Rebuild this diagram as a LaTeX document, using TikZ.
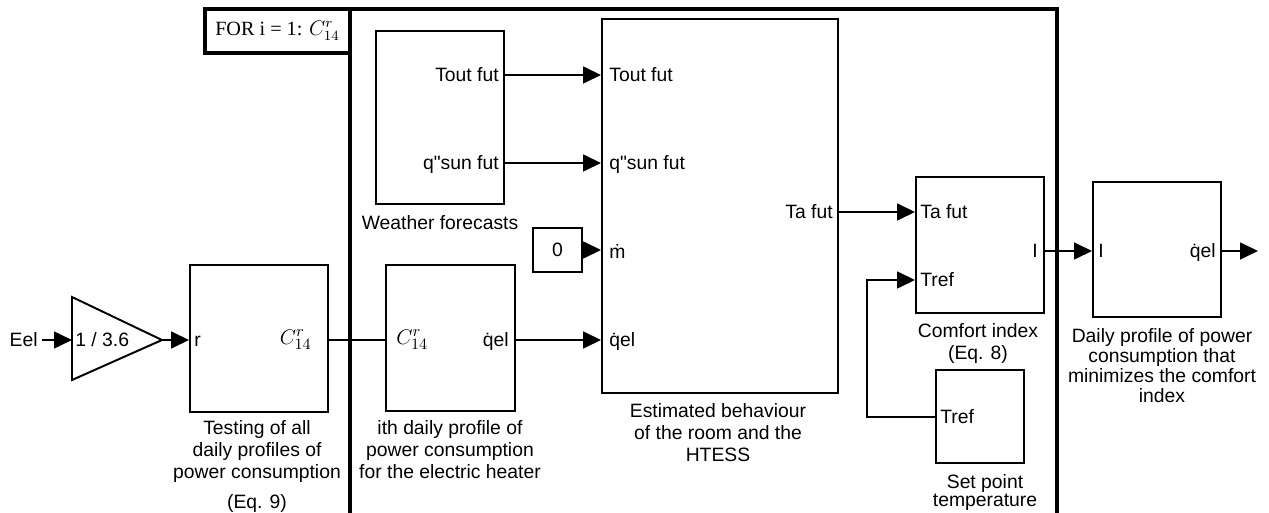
\documentclass[tikz,border=0pt]{standalone}
\usepackage[no-math]{fontspec}
\setmainfont{Liberation Sans}
\newfontfamily\forfont{Liberation Serif}
\usetikzlibrary{arrows.meta,fit,calc}
\newcommand{\withdot}[1]{#1^^^^0307}
\newcommand{\Crfourteen}{{\fontsize{13}{14}\selectfont$C^{r}_{14}$}}

\begin{document}
\begin{tikzpicture}[
 x=0.02cm, y=-0.02cm,
 font=\fontsize{11}{12.5}\selectfont,
 block/.style={draw, rectangle, line width=1.1pt, inner sep=0pt},
 port/.style={inner sep=0pt, text height=0.72em, text depth=0pt},
 caption/.style={align=center, inner sep=0pt, anchor=north},
 wire/.style={line width=0.9pt},
 arrow/.style={wire, -{Triangle[length=0.36cm, width=0.34cm]}},
 frame/.style={line width=1.8pt}
]
\useasboundingbox (0,0) rectangle (1269,513);

% Loop frame
\draw[frame] (350,513) -- (350,9) -- (1057,9) -- (1057,513);
\node[block, frame, fit={(205,9) (350,53)}] (forbox) {};
\node[font=\forfont\fontsize{11.5}{13}\selectfont] (forlabel) at (forbox.center) {FOR i = 1: $C^{r}_{14}$};

% Input and gain
\node[port, anchor=east] (eel) at (38,340) {Eel};
\coordinate (gain_in) at (72,340);
\coordinate (gain_out) at (162,340);
\draw[block] (72,297) -- (gain_out) -- (72,380) -- cycle;
\node[port, anchor=west] (gain) at (75,340) {1 / 3.6};

% Testing of all profiles
\node[block, fit={(190,265) (328,412)}] (testing) {};
\node[port, anchor=west] (test_r) at (194,340) {r};
\node[port, anchor=east] (test_c) at (312,338) {\Crfourteen};
\node[caption] (test_cap) at (257,420) {Testing of all\\daily profiles of\\power consumption\\[4.5pt](Eq. 9)};

% ith daily profile
\node[block, fit={(386,265) (515,411)}] (ith) {};
\node[port, anchor=west] (ith_c) at (396,338) {\Crfourteen};
\node[port, anchor=east] (ith_q) at (509,340) {\withdot{q}el};
\node[caption] (ith_cap) at (450,420) {ith daily profile of\\power consumption\\for the electric heater};

% Weather forecasts
\node[block, fit={(376,31) (504,204)}] (weather) {};
\node[port, anchor=east] (wea_tout) at (499,75) {Tout fut};
\node[port, anchor=east] (wea_qsun) at (499,163) {q\textquotedbl sun fut};
\node[caption] (wea_cap) at (440,215) {Weather forecasts};

% Constant
\node[block, fit={(533,228) (582,272)}] (zero) {};
\node (zero_txt) at (zero.center) {0};

% Room and HTESS
\node[block, fit={(602,19) (838,393)}] (est) {};
\node[port, anchor=west] (est_tout) at (609,75) {Tout fut};
\node[port, anchor=west] (est_qsun) at (609,163) {q\textquotedbl sun fut};
\node[port, anchor=west] (est_m) at (609,252) {\withdot{m}};
\node[port, anchor=west] (est_q) at (609,340) {\withdot{q}el};
\node[port, anchor=east] (est_ta) at (833,212) {Ta fut};
\node[caption] (est_cap) at (718,403) {Estimated behaviour\\of the room and the\\HTESS};

% Comfort index
\node[block, fit={(916,177) (1044,313)}] (comfort) {};
\node[port, anchor=west] (com_ta) at (920,212) {Ta fut};
\node[port, anchor=west] (com_tref) at (920,280) {Tref};
\node[port, anchor=east] (com_i) at (1038,251) {I};
\node[caption] (com_cap) at (978,323) {Comfort index\\(Eq. 8)};

% Set point
\node[block, fit={(936,370) (1024,463)}] (setpoint) {};
\node[port, anchor=west] (sp_tref) at (940,417) {Tref};
\node[caption] (sp_cap) at (985,474) {Set point\\[-2pt]temperature};
\coordinate (fb_corner) at (867,417);

% Best profile
\node[block, fit={(1093,182) (1221,317)}] (daily) {};
\node[port, anchor=west] (dai_i) at (1098,251) {I};
\node[port, anchor=east] (dai_q) at (1216,251) {\withdot{q}el};
\node[caption] (dai_cap) at (1162,328) {Daily profile of power\\[-1pt]consumption that\\[-1pt]minimizes the comfort\\[-1pt]index};
\coordinate (out) at (1258,251);

% Connectors
\draw[arrow] ([xshift=2pt]eel.east) -- (gain_in);
\draw[arrow] (gain_out) -- (testing.west |- test_r);
\draw[wire] (testing.east |- test_r) -- (ith.west |- test_r);
\draw[arrow] (weather.east |- wea_tout) -- (est.west |- wea_tout);
\draw[arrow] (weather.east |- wea_qsun) -- (est.west |- wea_qsun);
\draw[arrow] (zero.east) -- (est.west |- zero.east);
\draw[arrow] (ith.east |- ith_q) -- (est.west |- ith_q);
\draw[arrow] (est.east |- est_ta) -- (comfort.west |- est_ta);
\draw[arrow] (setpoint.west |- sp_tref) -- (fb_corner) |- (comfort.west |- com_tref);
\draw[arrow] (comfort.east |- com_i) -- (daily.west |- com_i);
\draw[arrow] (daily.east |- dai_q) -- (out);

\end{tikzpicture}
\end{document}
